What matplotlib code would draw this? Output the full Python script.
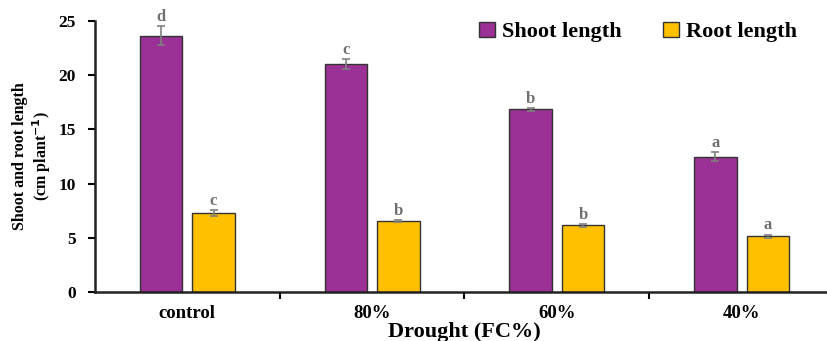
import numpy as np
import matplotlib.pyplot as plt
from matplotlib.ticker import FixedLocator

# data
treatments = ["control", "80%", "60%", "40%"]
shoot = [23.65, 21.0, 16.85, 12.5]
shoot_err = [0.85, 0.45, 0.12, 0.4]
shoot_letters = ["d", "c", "b", "a"]
root = [7.3, 6.55, 6.15, 5.15]
root_err = [0.3, 0.1, 0.15, 0.15]
root_letters = ["c", "b", "b", "a"]

plt.rcParams['font.family'] = ['Liberation Serif', 'DejaVu Serif']
plt.rcParams['font.weight'] = 'bold'

fig = plt.figure(figsize=(8.28, 3.41), dpi=100)
ax = fig.add_axes([95 / 828, 1 - 292 / 341, (834 - 95) / 828, (292 - 21) / 341])

x = np.arange(len(treatments))
w = 0.23
off = 0.142
err_kw = dict(ecolor='#808080', elinewidth=1.2, capsize=3, capthick=1.2)
ax.bar(x - off, shoot, w, yerr=shoot_err, color='#9B3096', edgecolor='#333333',
       linewidth=1, label='Shoot length', error_kw=err_kw)
ax.bar(x + off, root, w, yerr=root_err, color='#FFC000', edgecolor='#333333',
       linewidth=1, label='Root length', error_kw=err_kw)

for i in range(len(treatments)):
    ax.text(x[i] - off, shoot[i] + shoot_err[i] + 0.1, shoot_letters[i], ha='center',
            va='bottom', color='#707070', fontsize=12, fontweight='bold')
    ax.text(x[i] + off, root[i] + root_err[i] + 0.1, root_letters[i], ha='center',
            va='bottom', color='#707070', fontsize=12, fontweight='bold')

ax.set_xlim(-0.5, 3.5)
ax.set_ylim(0, 25)
ax.set_yticks([0, 5, 10, 15, 20, 25])
ax.set_xticks(x)
ax.set_xticklabels(treatments)
ax.xaxis.set_minor_locator(FixedLocator([0.5, 1.5, 2.5]))
ax.tick_params(axis='x', which='major', length=0, pad=9, labelsize=13.5)
ax.tick_params(axis='x', which='minor', length=5, width=1.5, direction='out')
ax.tick_params(axis='y', length=5, width=1.5, labelsize=12.5, pad=9)
for s in ['top', 'right']:
    ax.spines[s].set_visible(False)
for s in ['left', 'bottom']:
    ax.spines[s].set_linewidth(1.8)
    ax.spines[s].set_color('#222222')

ax.set_xlabel("Drought (FC%)", fontsize=16, fontweight='bold', labelpad=0)
ax.set_ylabel("Shoot and root length\n(cm plant$^{\\mathbf{-1}}$)", fontsize=11.5,
              fontweight='bold', labelpad=4, linespacing=1.1)

ax.legend(loc='center left', bbox_to_anchor=(0.52, 0.96), ncol=2, frameon=False,
          handlelength=0.7, handleheight=0.7, handletextpad=0.3,
          columnspacing=1.9, borderpad=0, borderaxespad=0,
          prop={'weight': 'bold', 'size': 16})

fig.savefig("out.png", dpi=100)
